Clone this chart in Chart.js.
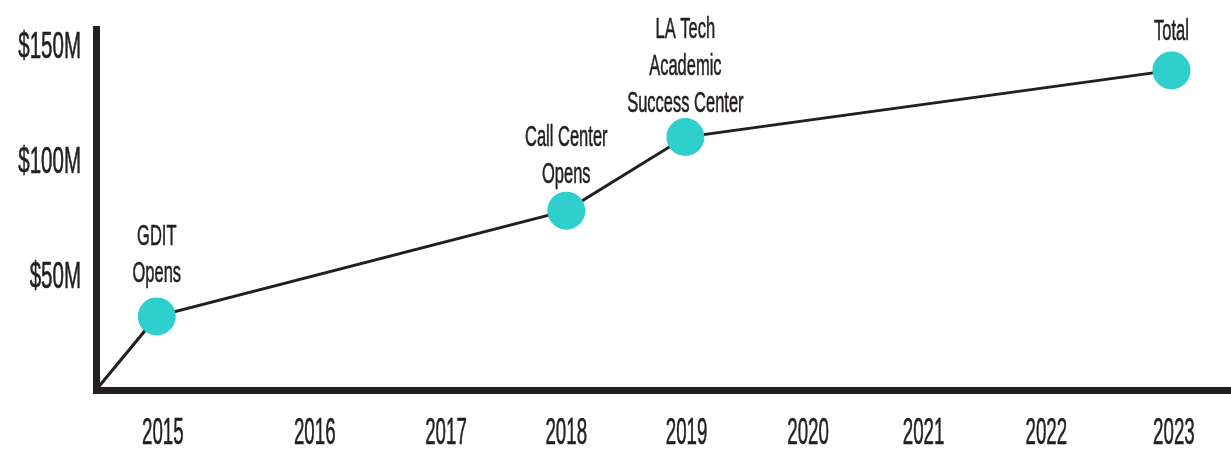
<!DOCTYPE html>
<html>
<head>
<meta charset="utf-8">
<script src="https://cdn.jsdelivr.net/npm/chart.js@4.4.1/dist/chart.umd.min.js"></script>
<style>
  html, body { margin: 0; padding: 0; background: #fff; }
  #wrap { width: 1231px; height: 450px; }
</style>
</head>
<body>
<div id="wrap"><canvas id="myChart" width="1231" height="450"></canvas></div>
<script>
// where each year label sits along the axis
var yearLabels = ['2015', '2016', '2017', '2018', '2019', '2020', '2021', '2022', '2023'];
var yearPos = [2014.68, 2015.93, 2017.01, 2018, 2018.99, 2019.99, 2020.94, 2021.95, 2023];

// cumulative investment, $M; first point is the origin of the line
var pointPos = [2014.13, 2014.63, 2018, 2018.98, 2022.98];
var investment = [0, 32, 78, 110, 139];
var milestones = [[], ['GDIT', 'Opens'], ['Call Center', 'Opens'], ['LA Tech', 'Academic', 'Success Center'], ['Total']];

var yTicks = [50, 100, 150];
var yTickLabels = ['$50M', '$100M', '$150M'];

var ink = '#231f20';
var teal = '#2ecfcc';
var face = "'Liberation Sans', Arial, sans-serif";

// condensed text: the original face is very narrow, so squeeze a regular one
function narrowText(ctx, text, x, y, sx, align) {
  ctx.save();
  ctx.translate(x, y);
  ctx.scale(sx, 1);
  ctx.textAlign = align;
  ctx.fillText(text, 0, 0);
  ctx.strokeText(text, 0, 0);
  ctx.restore();
}

var textLayer = {
  id: 'textLayer',
  afterDraw: function(chart, args, opts) {
    var ctx = chart.ctx;
    var xs = chart.scales.x, ys = chart.scales.y;
    ctx.save();
    ctx.fillStyle = ink;
    ctx.strokeStyle = ink;
    ctx.lineWidth = 0.6;
    ctx.textBaseline = 'alphabetic';

    // axis tick labels
    ctx.font = '36px ' + face;
    xs.ticks.forEach(function(t, i) {
      narrowText(ctx, yearLabels[i], xs.getPixelForValue(t.value), xs.top + 54, 0.52, 'center');
    });
    ys.ticks.forEach(function(t, i) {
      narrowText(ctx, yTickLabels[i], ys.right - 15, ys.getPixelForValue(t.value) + 13, 0.57, 'right');
    });

    // milestone captions above the points
    ctx.font = '30px ' + face;
    var meta = chart.getDatasetMeta(0);
    meta.data.forEach(function(pt, i) {
      var lines = milestones[i];
      for (var k = 0; k < lines.length; k++) {
        var y = pt.y - 19 - opts.gaps[i] - (lines.length - 1 - k) * 37;
        narrowText(ctx, lines[k], pt.x, y, 0.55, 'center');
      }
    });
    ctx.restore();
  }
};

var ctx = document.getElementById('myChart').getContext('2d');
var myChart = new Chart(ctx, {
  type: 'line',
  data: {
    datasets: [{
      data: pointPos.map(function(x, i) { return { x: x, y: investment[i] }; }),
      borderColor: ink,
      borderWidth: 3,
      tension: 0,
      pointRadius: [0, 19, 19, 19, 19],
      pointHoverRadius: [0, 19, 19, 19, 19],
      pointBackgroundColor: teal,
      pointBorderWidth: 0,
      clip: false
    }]
  },
  options: {
    responsive: false,
    animation: false,
    layout: { autoPadding: false, padding: { top: 29, left: 0, right: 0, bottom: 0 } },
    plugins: {
      legend: { display: false },
      tooltip: { enabled: false },
      textLayer: { gaps: [0, 15, 9, 6, 11] }
    },
    scales: {
      x: {
        type: 'linear',
        min: 2014.13,
        max: 2023.47,
        grid: { display: false },
        border: { display: true, color: ink, width: 7 },
        afterBuildTicks: function(scale) {
          scale.ticks = yearPos.map(function(v) { return { value: v }; });
        },
        afterFit: function(scale) {
          scale.height = 60;
          scale.paddingLeft = 0;
          scale.paddingRight = 0;
        },
        ticks: { display: false }
      },
      y: {
        min: 0,
        max: 157,
        grid: { display: false },
        border: { display: true, color: ink, width: 7 },
        afterBuildTicks: function(scale) {
          scale.ticks = yTicks.map(function(v) { return { value: v }; });
        },
        afterFit: function(scale) {
          scale.width = 96;
          scale.paddingTop = 0;
          scale.paddingBottom = 0;
        },
        ticks: { display: false }
      }
    }
  },
  plugins: [textLayer]
});
</script>
</body>
</html>
